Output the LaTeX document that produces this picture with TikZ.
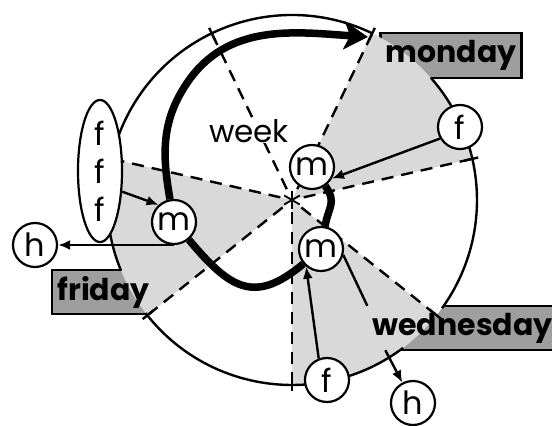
\documentclass[tikz,border=0pt]{standalone}
\usepackage{fontspec}
\setmainfont{Poppins}
\usetikzlibrary{arrows.meta,shapes.geometric,backgrounds}
\begin{document}
\begin{tikzpicture}[x=1pt,y=1pt,>={Latex[length=12pt,width=10pt]},
  rim/.style={line width=2.4pt},
  spoke/.style={line width=2.4pt,dash pattern=on 12pt off 8pt},
  sector/.style={fill=black!15},
  daybox/.style={fill=black!38,draw,line width=2.4pt},
  day/.style={font=\fontsize{30}{34}\bfseries,inner xsep=5pt,inner ysep=0pt,minimum height=44pt},
  ring/.style={circle,draw,fill=white,line width=2.2pt,minimum size=44pt,inner sep=0pt,font=\fontsize{32}{34}\selectfont},
  link/.style={line width=2.4pt,->},
  weekpath/.style={line width=7.5pt}]
 \useasboundingbox (-292,-226) rectangle (260,200);
 \coordinate (hub) at (0,0);
 \coordinate (montip) at (76,163);
 \coordinate (turn) at (-105,117);
 \foreach \a in {-90,-38.57,12.86,64.29,115.71,167.14,218.57} {
   \draw[spoke] (\a:12) -- (\a:183);
   \draw[rim] (\a:177) -- (\a:191);
 }
 \draw[rim] (64.4:185) arc[start angle=64.4,end angle=202.5,radius=185];
 \draw[rim] (217.7:185) arc[start angle=217.7,end angle=306.9,radius=185];
 \draw[rim] (-35.8:185) arc[start angle=-35.8,end angle=41.3,radius=185];
 \foreach \a in {90,30,150} \draw[line width=1.8pt] (\a:9) -- (\a+180:9);
 \node[ring] (mtop) at (20,33) {m};
 \node[ring] (mlow) at (29,-49) {m};
 \node[ring] (mleft) at (-118,-22) {m};
 \node[ring] (fright) at (168,73) {f};
 \node[ring] (fbot) at (35,-180) {f};
 \node[ring] (hbot) at (121,-203) {h};
 \node[ring] (hleft) at (-257,-45) {h};
 \node[ellipse,draw,fill=white,line width=2.2pt,minimum width=44pt,minimum height=134pt,inner sep=0pt,
   align=center,font=\fontsize{32}{38}\selectfont] (fff) at (-192,29) {f\\f\\f};
 \node[fill=white,inner sep=1pt,anchor=base,font=\fontsize{31}{33}\selectfont] (weeklbl) at (-43,58) {week};
 \node[day] (mon) at (159,144.5) {monday};
 \node[day] (wed) at (170.5,-128) {wednesday};
 \node[day] (fri) at (-188.5,-92) {friday};
 \begin{pgfonlayer}{background}
   \foreach \a in {12.86,-90,167.14}
     \fill[sector] (hub) -- (\a:185) arc[start angle=\a,delta angle=51.43,radius=185] -- cycle;
   \begin{scope}[even odd rule]
     \clip (-300,-240) rectangle (300,210) (hub) circle[radius=185];
     \foreach \d in {mon,wed,fri} \path[daybox] (\d.north west) rectangle (\d.south east);
   \end{scope}
 \end{pgfonlayer}
 \draw[weekpath] (mtop) to[out=-55,in=80,looseness=1.3] (mlow);
 \draw[weekpath] (mlow) to[out=-140,in=-50,looseness=1.4] (mleft);
 \draw[weekpath,-{Stealth[length=24pt,width=28pt,inset=6pt]}] (mleft) to[out=100,in=236] (turn)
   to[out=56,in=176] (montip);
 \draw[link] (fright.210) -- (mtop.-30);
 \draw[link] (fff.-43) -- (mleft.132);
 \draw[link] (hleft -| mleft) -- (hleft);
 \draw[link] (fbot.111) -- (mlow.230);
 \draw[line width=2.4pt] (mlow.-15) -- (wed.north west);
 \draw[link] ([xshift=18pt]wed.south west) -- (hbot);
\end{tikzpicture}
\end{document}
